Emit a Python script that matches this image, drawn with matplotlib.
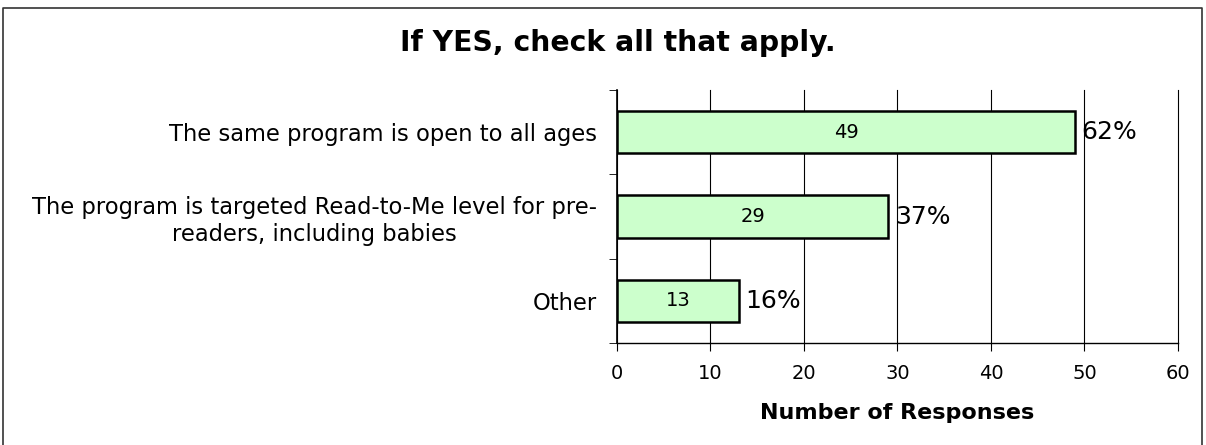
import matplotlib
matplotlib.use("Agg")
import matplotlib.pyplot as plt
from matplotlib.lines import Line2D
import numpy as np

# Survey answers, top to bottom.
categories = [
    "The same program is open to all ages",
    "The program is targeted Read-to-Me level for pre-\nreaders, including babies",
    "Other",
]
counts = [49, 29, 13]
percents = ["62%", "37%", "16%"]
xticks = [0, 10, 20, 30, 40, 50, 60]

plt.rcParams["font.family"] = ["DejaVu Sans"]

W, H = 1206, 445
fig = plt.figure(figsize=(W / 100, H / 100), dpi=100)
ax = fig.add_axes([617 / W, 1 - 343 / H, 561 / W, 253 / H])

y = np.arange(len(categories))
ax.barh(y, counts, height=0.5, color="#CCFFCC", edgecolor="black", linewidth=1.8, zorder=3)

for yi, c, p in zip(y, counts, percents):
    ax.text(c / 2, yi, str(c), ha="center", va="center", fontsize=14, zorder=4)
    ax.text(c + 0.7, yi, p, ha="left", va="center", fontsize=18, zorder=4)

ax.set_xlim(0, 60)
ax.set_ylim(len(categories) - 0.5, -0.5)
ax.set_xticks(xticks)
ax.set_xticklabels([str(t) for t in xticks], fontsize=14)
ax.set_xlabel("Number of Responses", fontsize=16, fontweight="bold")
ax.xaxis.set_label_coords(0.499, -0.277)
ax.xaxis.label.set_va("center")

# category labels centred, tick marks on the boundaries
ax.set_yticks(y)
ax.set_yticklabels(categories, fontsize=16.3, ha="right")
ax.tick_params(axis="y", length=0, pad=14.4)
ax.set_yticks(np.arange(-0.5, len(categories)), minor=True)
ax.tick_params(axis="y", which="minor", length=6, color="black")
ax.tick_params(axis="x", length=6, color="black", pad=9)
for lbl in ax.get_yticklabels():
    lbl.set_multialignment("center")
    lbl.set_linespacing(1.2)

ax.grid(axis="x", color="black", linewidth=0.8, zorder=0)
for gl in ax.get_xgridlines():
    gl.set_clip_on(False)
for s in ["top", "right"]:
    ax.spines[s].set_visible(False)
ax.spines["left"].set_linewidth(1.2)
ax.spines["bottom"].set_linewidth(1.0)

fig.text(618 / W, 1 - 43 / H, "If YES, check all that apply.", ha="center", va="center",
         fontsize=20.3, fontweight="bold")

# outer chart border, open at the bottom
x0, x1, yt = 3 / W, 1202 / W, 1 - 8 / H
fig.add_artist(Line2D([x0, x0, x1, x1], [0, yt, yt, 0], transform=fig.transFigure,
                      color="#333333", linewidth=1.2))

fig.savefig("out.png", dpi=100)
